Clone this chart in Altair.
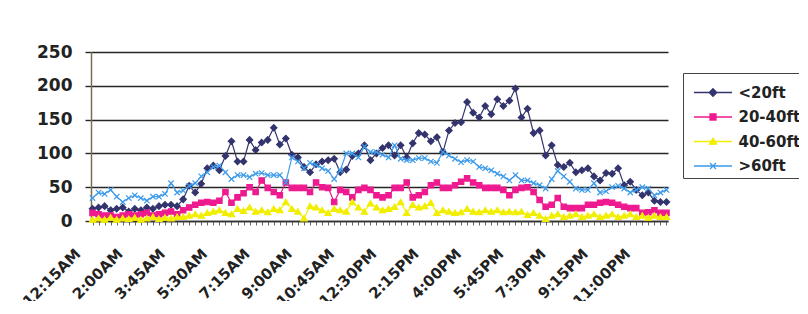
import json
import altair as alt
import pandas as pd

# 15-minute categories, 12:15AM .. 12:00AM
times = []
for k in range(1, 97):
    m = (k * 15) % (24 * 60)
    h, mm = divmod(m, 60)
    ampm = "AM" if h < 12 else "PM"
    h12 = h % 12
    if h12 == 0:
        h12 = 12
    times.append(f"{h12}:{mm:02d}{ampm}")

shown_labels = ["12:15AM", "2:00AM", "3:45AM", "5:30AM", "7:15AM", "9:00AM", "10:45AM",
                "12:30PM", "2:15PM", "4:00PM", "5:45PM", "7:30PM", "9:15PM", "11:00PM"]

series_names = ["<20ft", "20-40ft", "40-60ft", ">60ft"]
series_colors = ["#33336e", "#ee1a8f", "#f2ee00", "#3d9be9"]

lt20 = [18, 20, 22, 16, 18, 20, 14, 18, 16, 20,
        18, 22, 24, 24, 22, 32, 52, 42, 55, 78,
        82, 75, 96, 118, 88, 88, 120, 105, 116, 120,
        138, 113, 122, 98, 94, 80, 72, 84, 88, 90,
        92, 72, 76, 96, 100, 112, 90, 100, 108, 112,
        97, 112, 94, 115, 130, 128, 118, 124, 102, 134,
        145, 146, 176, 160, 153, 170, 158, 180, 170, 178,
        196, 153, 166, 130, 134, 97, 112, 83, 80, 86,
        72, 75, 78, 66, 60, 71, 70, 78, 53, 58,
        46, 38, 42, 30, 28, 28]

f20_40 = [12, 10, 8, 8, 6, 8, 10, 8, 10, 12,
          8, 10, 12, 14, 10, 16, 20, 24, 27, 28,
          27, 30, 43, 27, 35, 41, 50, 43, 60, 49,
          43, 38, 57, 49, 49, 49, 43, 57, 50, 49,
          28, 46, 43, 35, 46, 49, 46, 38, 35, 38,
          49, 49, 57, 35, 38, 43, 53, 57, 49, 49,
          53, 58, 63, 57, 53, 49, 49, 49, 46, 38,
          46, 49, 50, 43, 31, 21, 24, 34, 21, 19,
          19, 19, 24, 24, 27, 28, 27, 24, 21, 19,
          19, 12, 13, 16, 12, 12]

f40_60 = [2, 4, 2, 5, 2, 4, 3, 5, 2, 4,
          6, 3, 5, 4, 6, 6, 8, 10, 8, 12,
          14, 16, 12, 10, 18, 15, 20, 14, 16, 13,
          18, 16, 28, 18, 14, 4, 22, 20, 16, 12,
          18, 16, 14, 28, 20, 14, 26, 20, 16, 18,
          21, 28, 12, 24, 20, 22, 27, 12, 16, 14,
          12, 13, 18, 14, 13, 16, 14, 16, 13, 14,
          13, 14, 9, 12, 8, 3, 8, 10, 6, 8,
          10, 6, 8, 10, 6, 8, 10, 6, 8, 10,
          6, 8, 5, 8, 6, 6]

gt60 = [34, 42, 40, 46, 36, 28, 34, 38, 34, 30,
        36, 36, 40, 56, 42, 45, 52, 56, 66, 72,
        80, 82, 72, 62, 68, 68, 65, 70, 71, 68,
        68, 68, 57, 94, 88, 78, 86, 83, 78, 74,
        62, 75, 100, 100, 94, 110, 102, 102, 98, 94,
        112, 92, 90, 90, 93, 93, 88, 86, 102, 97,
        92, 87, 90, 88, 80, 78, 75, 70, 66, 60,
        68, 60, 60, 56, 53, 48, 62, 74, 66, 58,
        48, 46, 46, 56, 42, 44, 50, 52, 48, 42,
        46, 50, 48, 38, 42, 46]

rows = []
for name, vals in zip(series_names, [lt20, f20_40, f40_60, gt60]):
    for t, v in zip(times, vals):
        rows.append({"time": t, "series": name, "value": v})
df = pd.DataFrame(rows)

marker_paths = [
    "M0,-1L1,0L0,1L-1,0Z",
    "M-0.85,-0.85H0.85V0.85H-0.85Z",
    "M0,-0.9L1,0.8L-1,0.8Z",
    "M-0.85,-0.85L0.85,0.85M-0.85,0.85L0.85,-0.85",
]
LINE = "M-1.27,0H1.27"
legend_paths = [
    LINE + "M0,-0.25L0.25,0L0,0.25L-0.25,0Z",
    LINE + "M-0.2,-0.2H0.2V0.2H-0.2Z",
    LINE + "M0,-0.22L0.24,0.18L-0.24,0.18Z",
    LINE + "M-0.2,-0.2L0.2,0.2M-0.2,0.2L0.2,-0.2",
]

label_expr = "indexof(" + json.dumps(shown_labels) + ", datum.value) >= 0 ? datum.value : ''"

FONT = "DejaVu Sans"

x_enc = alt.X(
    "time:N", sort=times, title=None,
    scale=alt.Scale(type="point", padding=0.25),
    axis=alt.Axis(
        labelExpr=label_expr, labelAngle=-45, labelAlign="right", labelBaseline="middle",
        labelPadding=26, labelOffset=-15, labelOverlap=False,
        labelFont=FONT, labelFontSize=15, labelFontWeight="bold", labelColor="#222",
        tickSize=4, tickColor="#666", tickWidth=1,
        domainColor="#333", domainWidth=1.5, grid=False,
    ),
)
y_enc = alt.Y(
    "value:Q", title=None,
    scale=alt.Scale(domain=[0, 250], nice=False),
    axis=alt.Axis(
        values=[0, 50, 100, 150, 200, 250], grid=True, gridColor="#262626", gridWidth=1.4,
        tickSize=6, tickColor="#262626", tickWidth=1.4,
        domainColor="#7a7050", domainWidth=1.5,
        labelFont=FONT, labelFontSize=17, labelFontWeight="bold", labelColor="#222",
        labelPadding=13,
    ),
)


def legend_spec():
    return alt.Legend(
        title=None, orient="none", legendX=592, legendY=21,
        direction="vertical",
        strokeColor="#444", fillColor="white", padding=3.5,
        symbolSize=900, symbolOffset=10.5, symbolStrokeWidth=1.3, symbolOpacity=1,
        labelOffset=9.5, rowPadding=0.5,
        labelFont=FONT, labelFontSize=15, labelFontWeight="bold", labelColor="#222",
    )


color_scale = alt.Scale(domain=series_names, range=series_colors)

base = alt.Chart(df).encode(x=x_enc, y=y_enc)

series_layers = []
for name, col, path in zip(series_names, series_colors, marker_paths):
    sub = base.transform_filter(alt.datum.series == name)
    series_layers.append(sub.mark_line(color=col, strokeWidth=1.2))
    series_layers.append(
        sub.mark_point(shape=path, filled=True, size=40, color=col, stroke=col,
                       strokeWidth=1.2, opacity=1)
    )

# invisible layer that only carries the legend (line + marker symbols)
legend_layer = base.mark_point(filled=True, opacity=0).encode(
    color=alt.Color("series:N", scale=color_scale, legend=legend_spec()),
    shape=alt.Shape("series:N", scale=alt.Scale(domain=series_names, range=legend_paths),
                    legend=legend_spec()),
    stroke=alt.Stroke("series:N", scale=alt.Scale(domain=series_names, range=series_colors),
                      legend=legend_spec()),
)

chart = alt.layer(legend_layer, *series_layers).properties(
    width=577, height=169,
    autosize=alt.AutoSizeParams(type="none"),
    padding={"left": 83, "top": 44, "right": 131, "bottom": 80},
    background="white",
).configure_view(strokeWidth=0)

chart.save("out.html", embed_options={"renderer": "svg", "actions": False})
